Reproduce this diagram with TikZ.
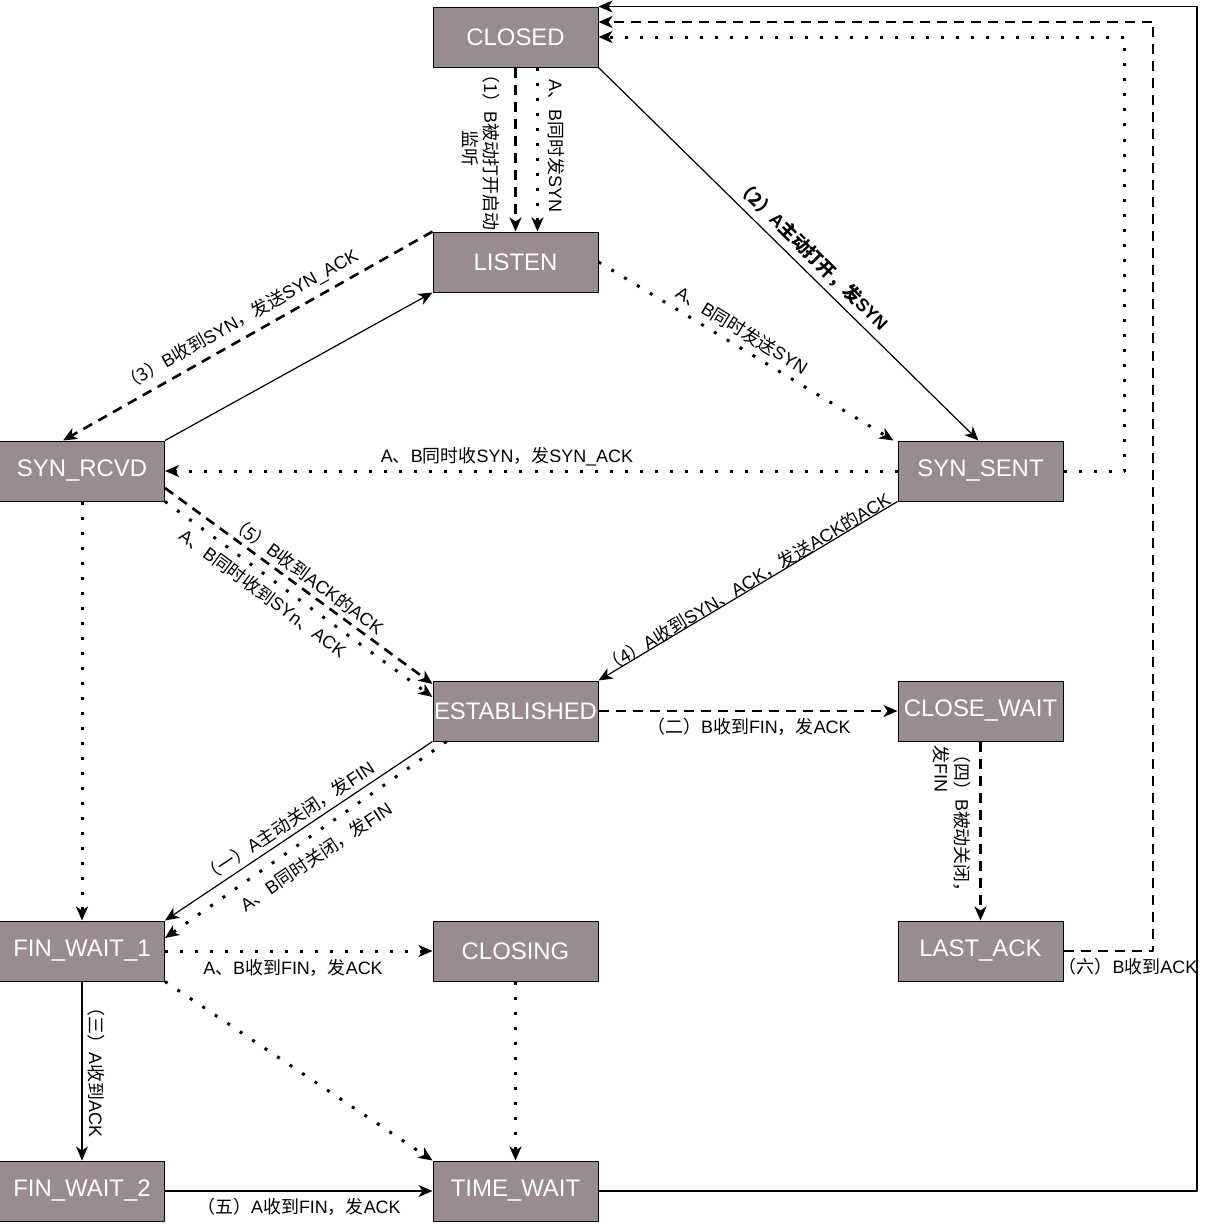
\documentclass[tikz,border=0pt]{standalone}
\usepackage{fontspec}
\setmainfont{Liberation Sans}
\newfontfamily\cjk{Noto Sans CJK SC}
\newcommand{\zh}[1]{{\cjk #1}}
\usepackage{tikz}
\usetikzlibrary{arrows.meta,positioning}
\definecolor{statefill}{RGB}{153,139,142}

\begin{document}
\begin{tikzpicture}[x=1bp,y=-1bp,>={Stealth[length=14bp,width=12bp,inset=4bp]},line join=bevel,
  state/.style={draw=black,line width=1bp,fill=statefill,text=white,minimum width=165bp,minimum height=60bp,inner sep=0pt,font=\fontsize{24}{28}\selectfont},
  lbl/.style={font=\fontsize{18}{21}\selectfont,inner sep=0pt},
  thinline/.style={line width=1.2bp,->},
  dashline/.style={line width=2.6bp,dash pattern=on 10bp off 7bp,->},
  dotline/.style={line width=3bp,dash pattern=on 3bp off 12bp,->}]
%%
\useasboundingbox (0,0) rectangle (1212,1227);
\node (closed) at (515.5,37) [state] {CLOSED};
  \node (listen) at (515.5,262) [state] {LISTEN};
  \node (synrcvd) at (82,471) [state] {SYN\_RCVD};
  \node (synsent) at (980.5,471) [state] {SYN\_SENT};
  \node (established) at (515.5,711) [state] {ESTABLISHED};
  \node (closewait) at (980.5,711) [state] {CLOSE\_WAIT};
  \node (finwait1) at (82,951) [state] {FIN\_WAIT\_1};
  \node (closing) at (515.5,951) [state] {CLOSING};
  \node (lastack) at (980.5,951) [state] {LAST\_ACK};
  \node (finwait2) at (82,1191) [state] {FIN\_WAIT\_2};
  \node (timewait) at (515.5,1191) [state] {TIME\_WAIT};
%
  \draw [dashline] (closed.south) -- (listen.north);
  \draw [dotline] ([xshift=22bp]closed.south) -- ([xshift=22bp]listen.north);
  \draw [thinline] (closed.south east) -- ([xshift=-2bp]synsent.north);
  \draw [dashline] (listen.north west) -- ([xshift=-19bp]synrcvd.north);
  \draw [thinline] (synrcvd.north east) -- (listen.south west);
  \draw [dotline] (listen.east) -- ([xshift=-87bp]synsent.north);
  \draw [dotline] (synsent.west) -- (synrcvd.east);
  \draw [dotline] (synsent.east) -- (1124,471) |- (closed.east);
  \draw [dashline] (lastack.east) -- (1153,951) |- ([yshift=15bp]closed.east);
  \draw [thinline] (timewait.east) -- (1197,1191) |- (closed.north east);
  \draw [dashline] ([yshift=-17bp]synrcvd.east) -- ([yshift=27bp]established.west);
  \draw [dotline] (synrcvd.south east) -- ([yshift=14bp]established.west);
  \draw [thinline] (synsent.south west) -- (established.north east);
  \draw [dashline] (established.east) -- (closewait.west);
  \draw [dashline] (closewait.south) -- (lastack.north);
  \draw [thinline] (established.south west) -- (finwait1.north east);
  \draw [dotline] ([xshift=14bp]established.south west) -- ([yshift=13bp]finwait1.east);
  \draw [dotline] (synrcvd.south) -- (finwait1.north);
  \draw [dotline] (finwait1.east) -- (closing.west);
  \draw [dotline] (finwait1.south east) -- (timewait.north west);
  \draw [dotline] (closing.south) -- (timewait.north);
  \draw [thinline] (finwait1.south) -- (finwait2.north);
  \draw [thinline] (finwait2.east) -- (timewait.west);
%
  \node (l1) at (481,148) [lbl,rotate=-90,align=center] {\zh{（1）}B\zh{被动打开启动}\\\zh{监听}};
  \node (l1b) at (556,146) [lbl,rotate=-90] {A\zh{、}B\zh{同时发}SYN};
  \node (l2) at (812,255) [lbl,rotate=-44.5,font=\fontsize{18}{21}\selectfont\bfseries] {\zh{（2）}A\zh{主动打开，发}SYN};
  \node (l3) at (240,320) [lbl,rotate=29.5] {\zh{（3）}B\zh{收到}SYN\zh{，发送}SYN\_ACK};
  \node (l3b) at (742,330) [lbl,rotate=-31.5] {A\zh{、}B\zh{同时发送}SYN};
  \node (l3c) at (507,457) [lbl] {A\zh{、}B\zh{同时收}SYN\zh{，发}SYN\_ACK};
  \node (l5) at (307,575) [lbl,rotate=-36.5] {\zh{（5）}B\zh{收到}ACK\zh{的}ACK};
  \node (l5b) at (263,593) [lbl,rotate=-36.5] {A\zh{、}B\zh{同时收到}SYn\zh{、}ACK};
  \node (l4) at (747,583) [lbl,rotate=31] {\zh{（4）}A\zh{收到}SYN\zh{、}ACK\zh{，发送}ACK\zh{的}ACK};
  \node (l6) at (749,727) [lbl] {\zh{（二）}B\zh{收到}FIN\zh{，发}ACK};
  \node (l7) at (952,823) [lbl,rotate=-90,align=left] {\zh{（四）}B\zh{被动关闭，}\\\zh{发}FIN};
  \node (l8) at (288,822) [lbl,rotate=33.7] {\zh{（一）}A\zh{主动关闭，发}FIN};
  \node (l8b) at (316,857) [lbl,rotate=34] {A\zh{、}B\zh{同时关闭，发}FIN};
  \node (l9) at (293,968) [lbl] {A\zh{、}B\zh{收到}FIN\zh{，发}ACK};
  \node (l10) at (96,1068) [lbl,rotate=-90] {\zh{（三）}A\zh{收到}ACK};
  \node (l11) at (299,1207) [lbl] {\zh{（五）}A\zh{收到}FIN\zh{，发}ACK};
  \node (l12) at (1128,967) [lbl] {\zh{（六）}B\zh{收到}ACK};
%
\end{tikzpicture}
\end{document}
